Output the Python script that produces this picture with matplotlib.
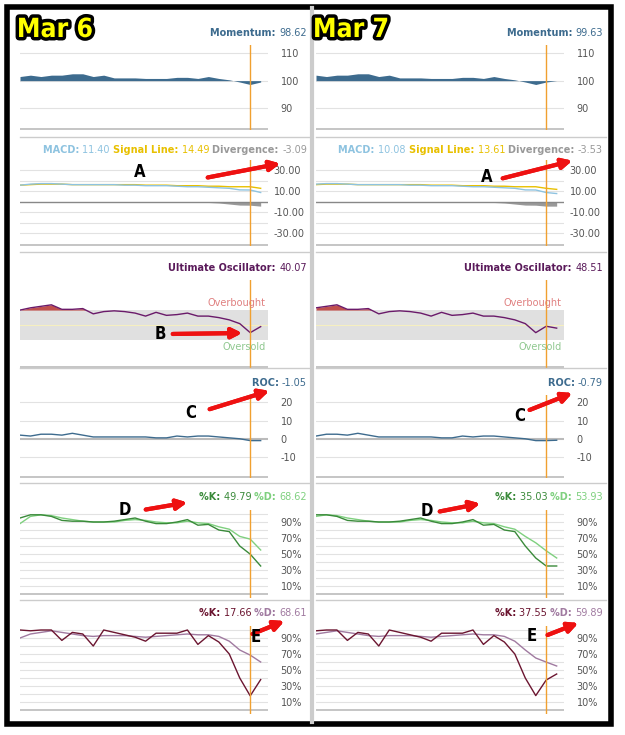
import matplotlib.pyplot as plt
from matplotlib.patches import Rectangle
import matplotlib.patheffects as pe

W, H = 625, 735

# ---- data (Mar 6 column) ----
mom6 = [101.5, 102, 101.5, 102, 102, 102.5, 102.5, 101.5, 102, 101, 101, 101, 100.8, 100.8,
        100.8, 101.2, 101.2, 100.8, 101.5, 100.8, 100.3, 99.5, 98.6, 99.5]
macd6 = [16, 17, 17.5, 17.5, 17, 16.5, 16.5, 16.5, 16.5, 16.5, 16, 16, 15.5, 15.5, 15.5, 15,
         14.5, 14.5, 14, 13.5, 13, 11.5, 11.4, 9]
sig6 = [16, 16.5, 17, 17, 17, 16.5, 16.5, 16.5, 16.5, 16.5, 16.5, 16.5, 16, 16, 16, 15.5,
        15.5, 15.5, 15, 15, 14.5, 14.5, 14.49, 13]
div6 = [-0.3, -0.3, -0.3, -0.3, -0.3, -0.3, -0.5, -0.5, -0.5, -0.5, -0.5, -0.5, -0.5, -0.5,
        -0.5, -0.5, -0.5, -0.5, -0.5, -1, -2, -3, -3.1, -4]
uo6 = [70, 73, 75, 77, 71, 71, 72, 65, 68, 69, 68, 66, 62, 67, 63, 64, 66, 62, 62, 60, 57, 52, 40, 48]
roc6 = [2, 1.5, 2.5, 2.5, 2, 3, 2, 1, 1, 1, 1, 1, 1, 0.5, 0.5, 1.5, 1, 1.5, 1.5, 1, 0.5, 0, -1, -1]
fk6 = [95, 99, 99, 97, 92, 91, 91, 90, 90, 91, 93, 95, 91, 88, 88, 90, 93, 86, 87, 80, 78, 60, 49.8, 35]
fd6 = [88, 97, 99, 98, 95, 93, 91, 90, 90, 90, 92, 93, 92, 90, 89, 89, 91, 89, 88, 84, 81, 72, 68.6, 55]
sk6 = [100, 99, 100, 100, 87, 97, 95, 80, 100, 97, 94, 91, 86, 96, 96, 96, 100, 82, 93, 85, 70, 40, 17.7, 38]
sd6 = [90, 95, 97, 99, 97, 95, 93, 92, 93, 93, 93, 92, 91, 92, 93, 94, 95, 94, 94, 92, 86, 75, 68.6, 60]

# ---- Mar 7 column (one day later) ----
mom7 = mom6[1:] + [100.0]
macd7 = macd6[1:] + [8.0]
sig7 = sig6[1:] + [12.0]
div7 = div6[1:] + [-4.0]
uo7 = [73, 75, 77, 71, 71, 72, 65, 68, 69, 68, 66, 62, 67, 63, 64, 66, 62, 62, 60, 57, 52, 40, 48.5, 46]
roc7 = roc6[1:] + [-0.8]
fk7 = [99, 99, 97, 92, 91, 91, 90, 90, 91, 93, 95, 91, 88, 88, 90, 93, 86, 87, 80, 78, 60, 45, 35, 35]
fd7 = [97, 99, 98, 95, 93, 91, 90, 90, 90, 92, 93, 92, 90, 89, 89, 91, 89, 88, 84, 81, 72, 64, 54, 45]
sk7 = [99, 100, 100, 87, 97, 95, 80, 100, 97, 94, 91, 86, 96, 96, 96, 100, 82, 93, 85, 70, 40, 18, 37.5, 45]
sd7 = [95, 97, 99, 97, 95, 93, 92, 93, 93, 93, 92, 91, 92, 93, 94, 95, 94, 94, 92, 86, 75, 65, 59.9, 55]

headers6 = [[("Momentum: ", "#3d6b8e", True), ("98.62", "#3d6b8e", False)],
            [("MACD: ", "#8ec3e0", True), ("11.40 ", "#8ec3e0", False), ("Signal Line: ", "#e8c000", True),
             ("14.49 ", "#e8c000", False), ("Divergence: ", "#999999", True), ("-3.09", "#999999", False)],
            [("Ultimate Oscillator: ", "#5a1a5a", True), ("40.07", "#5a1a5a", False)],
            [("ROC: ", "#3d6b8e", True), ("-1.05", "#3d6b8e", False)],
            [("%K: ", "#3a8a3a", True), ("49.79 ", "#3a8a3a", False), ("%D: ", "#7fd07f", True), ("68.62", "#7fd07f", False)],
            [("%K: ", "#6b1530", True), ("17.66 ", "#6b1530", False), ("%D: ", "#a07aa0", True), ("68.61", "#a07aa0", False)]]
headers7 = [[("Momentum: ", "#3d6b8e", True), ("99.63", "#3d6b8e", False)],
            [("MACD: ", "#8ec3e0", True), ("10.08 ", "#8ec3e0", False), ("Signal Line: ", "#e8c000", True),
             ("13.61 ", "#e8c000", False), ("Divergence: ", "#999999", True), ("-3.53", "#999999", False)],
            [("Ultimate Oscillator: ", "#5a1a5a", True), ("48.51", "#5a1a5a", False)],
            [("ROC: ", "#3d6b8e", True), ("-0.79", "#3d6b8e", False)],
            [("%K: ", "#3a8a3a", True), ("35.03 ", "#3a8a3a", False), ("%D: ", "#7fd07f", True), ("53.93", "#7fd07f", False)],
            [("%K: ", "#6b1530", True), ("37.55 ", "#6b1530", False), ("%D: ", "#a07aa0", True), ("59.89", "#a07aa0", False)]]

plt.rcParams['font.family'] = 'DejaVu Sans'
plt.rcParams['axes.unicode_minus'] = False
fig = plt.figure(figsize=(W / 100, H / 100), dpi=100)


def fx(x):
    return x / W


def fy(y):
    return 1 - y / H


def make_ax(x0, y0, x1, y1):
    ax = fig.add_axes([fx(x0), fy(y1), (x1 - x0) / W, (y1 - y0) / H])
    for s in ax.spines.values():
        s.set_visible(False)
    ax.set_xticks([])
    ax.set_xlim(0, 23.7)
    ax.yaxis.tick_right()
    ax.tick_params(axis='y', length=0, labelsize=7, labelcolor='#555555', pad=9)
    ax.patch.set_alpha(0)
    return ax


def grid(ax, vals, bottom):
    for v in vals:
        ax.axhline(v, color='#e2e2e2', lw=0.8, zorder=0)
    ax.axhline(bottom, color='#bbbbbb', lw=1.2, zorder=0)


def header(x_right, y, parts):
    r = fig.canvas.get_renderer()
    x = x_right
    for txt, col, bold in reversed(parts):
        t = fig.text(fx(x), fy(y), txt, color=col, fontsize=7, ha='right', va='center',
                     fontweight='bold' if bold else 'normal')
        x -= t.get_window_extent(renderer=r).width


def column(off, d, heads, label):
    mom, macd, sig, div, uo, roc, fk, fd, sk, sd = d
    xs = list(range(len(mom)))
    cur = 22
    cc = '#f0a030'
    x0, x1 = 20 + off, 268 + off

    # momentum
    ax = make_ax(x0, 45, x1, 130)
    ax.set_ylim(82, 113)
    grid(ax, [90, 100, 110], 82.5)
    ax.fill_between(xs, 100, mom, color='#3d6b8e', lw=0)
    ax.set_yticks([90, 100, 110])
    ax.axvline(cur, color=cc, lw=1)

    # MACD
    ax = make_ax(x0, 160, x1, 246)
    ax.set_ylim(-42, 40)
    grid(ax, [30, 20, 10, -10, -20, -30], -41)
    ax.axhline(0, color='#888888', lw=1)
    ax.fill_between(xs, 0, div, color='#999999', lw=0)
    ax.plot(xs, sig, color='#e8c000', lw=1)
    ax.plot(xs, macd, color='#8ec3e0', lw=1)
    ax.set_yticks([30, 10, -10, -30])
    ax.set_yticklabels(['30.00', '10.00', '-10.00', '-30.00'])
    ax.tick_params(axis='y', pad=4)
    ax.axvline(cur, color=cc, lw=1)

    # Ultimate Oscillator
    ax = make_ax(x0, 280, x1, 368)
    ax.set_ylim(-7, 110)
    ax.axhspan(30, 70, color='#e0e0e0', lw=0, zorder=0)
    ax.axhline(50, color='#f5efc0', lw=0.8)
    ax.axhline(-6, color='#bbbbbb', lw=1.2)
    ax.fill_between(xs, 70, uo, where=[v >= 70 for v in uo], interpolate=True, color='#c0504d', lw=0)
    ax.plot(xs, uo, color='#6a1a6a', lw=1)
    ax.set_yticks([])
    ax.text(23.5, 73, 'Overbought', color='#e08080', fontsize=7, ha='right', va='bottom')
    ax.text(23.5, 27, 'Oversold', color='#90c890', fontsize=7, ha='right', va='top')
    ax.axvline(cur, color=cc, lw=1)

    # ROC
    ax = make_ax(x0, 395, x1, 478)
    ax.set_ylim(-21.5, 24)
    grid(ax, [20, 10, -10], -21)
    ax.axhline(0, color='#bbbbbb', lw=1.5)
    ax.plot(xs, roc, color='#3d6b8e', lw=1)
    ax.set_yticks([20, 10, 0, -10])
    ax.axvline(cur, color=cc, lw=1)

    # fast stochastic
    ax = make_ax(x0, 510, x1, 598)
    ax.set_ylim(-5, 105)
    grid(ax, [100, 90, 80, 70, 60, 50, 40, 30, 20, 10], 0)
    ax.plot(xs, fd, color='#7fd07f', lw=1)
    ax.plot(xs, fk, color='#3a8a3a', lw=1)
    ax.set_yticks([90, 70, 50, 30, 10])
    ax.set_yticklabels(['90%', '70%', '50%', '30%', '10%'])
    ax.axvline(cur, color=cc, lw=1)

    # slow stochastic
    ax = make_ax(x0, 626, x1, 714)
    ax.set_ylim(-5, 105)
    grid(ax, [100, 90, 80, 70, 60, 50, 40, 30, 20, 10], 0)
    ax.plot(xs, sd, color='#a07aa0', lw=1)
    ax.plot(xs, sk, color='#6b1530', lw=1)
    ax.set_yticks([90, 70, 50, 30, 10])
    ax.set_yticklabels(['90%', '70%', '50%', '30%', '10%'])
    ax.axvline(cur, color=cc, lw=1)

    # separators
    for y in [137, 252, 368, 483, 600]:
        fig.add_artist(plt.Line2D([fx(20 + off), fx(310 + off)], [fy(y), fy(y)], color='#cccccc', lw=1))

    for y, parts in zip([33, 150, 268, 383, 497, 613], heads):
        header(307 + off, y, parts)

    fig.text(fx(55 + off), fy(30), label, fontsize=19, fontweight='bold', ha='center', va='center',
             color='#ffff00', fontstretch='condensed',
             path_effects=[pe.withStroke(linewidth=5, foreground='black')])


column(0, [mom6, macd6, sig6, div6, uo6, roc6, fk6, fd6, sk6, sd6], headers6, 'Mar 6')
column(296, [mom7, macd7, sig7, div7, uo7, roc7, fk7, fd7, sk7, sd7], headers7, 'Mar 7')

fig.add_artist(plt.Line2D([fx(312), fx(312)], [fy(8), fy(722)], color='#cccccc', lw=3))

arrows = [((205, 178), (283, 163), 'A', (140, 172)),
          ((170, 334), (245, 333), 'B', (160, 334)),
          ((207, 410), (272, 390), 'C', (191, 413)),
          ((143, 510), (190, 502), 'D', (125, 510)),
          ((250, 635), (287, 620), 'E', (256, 637)),
          ((500, 179), (575, 160), 'A', (487, 177)),
          ((527, 411), (575, 392), 'C', (520, 416)),
          ((437, 512), (483, 503), 'D', (427, 511)),
          ((545, 636), (581, 622), 'E', (532, 636))]
for (sx, sy), (ex, ey), letter, (lx, ly) in arrows:
    fig.add_artist(plt.annotate('', xy=(fx(ex), fy(ey)), xytext=(fx(sx), fy(sy)), xycoords='figure fraction',
                                arrowprops=dict(arrowstyle='-|>,head_length=0.6,head_width=0.3', color='#ee1111', lw=3)))
    fig.text(fx(lx), fy(ly), letter, fontsize=12, fontweight='bold', ha='center', va='center',
             fontstretch='condensed', color='black')

fig.add_artist(Rectangle((fx(7), fy(724)), (611 - 7) / W, (724 - 7) / H, transform=fig.transFigure,
                         fill=False, ec='black', lw=4))

fig.savefig('out.png', dpi=100)
